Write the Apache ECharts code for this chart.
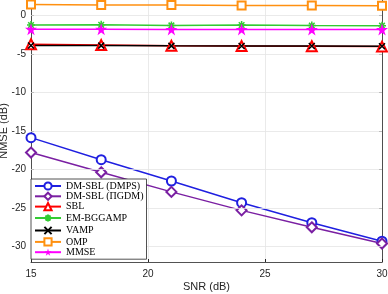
<!DOCTYPE html>
<html>
<head>
<meta charset="utf-8">
<script src="https://cdn.jsdelivr.net/npm/echarts@6/dist/echarts.min.js"></script>
<style>html,body{margin:0;padding:0;background:#fff}#c{width:388px;height:294px}</style>
</head>
<body>
<div id="c"></div>
<script>
const snr = [15, 18, 21, 24, 27, 30];
const dmps = [-15.86, -18.72, -21.49, -24.3, -26.9, -29.3];
const pigdm = [-17.8, -20.36, -22.9, -25.3, -27.5, -29.6];
const sbl = [-3.75, -3.85, -3.95, -3.98, -4.0, -4.05];
const embggamp = [-1.25, -1.22, -1.3, -1.25, -1.32, -1.33];
const vamp = [-3.9, -3.92, -3.95, -3.97, -3.98, -4.0];
const omp = [1.43, 1.34, 1.34, 1.3, 1.3, 1.25];
const mmse = [-1.8, -1.8, -1.82, -1.82, -1.83, -1.83];
const yTicks = [-30, -25, -20, -15, -10, -5, 0];
const names = ['DM-SBL (DMPS)', 'DM-SBL (ΠGDM)', 'SBL', 'EM-BGGAMP', 'VAMP', 'OMP', 'MMSE'];

const star = 'path://M50,0 L61.23,34.55 L97.55,34.55 L68.16,55.9 L79.39,90.45 L50,69.1 L20.61,90.45 L31.84,55.9 L2.45,34.55 L38.77,34.55 Z';
const aster = 'path://M5,0L5,10M0,5L10,5M1.5,1.5L8.5,8.5M8.5,1.5L1.5,8.5';
const cross = 'path://M0,0L10,10M10,0L0,10';

function pairs(v){ return snr.map((x,i)=>[x, v[i]]); }
function mk(name, data, color, symbol, size, extra){
  return Object.assign({
    name, type:'line', data: pairs(data), symbol, symbolSize:size, z:3,
    lineStyle:{color, width:1.5}, itemStyle:{color, borderColor:color, borderWidth:1.5},
    emphasis:{disabled:true}, animation:false
  }, extra||{});
}
const series = [
  {
    name:'grid', type:'line', data:[], z:1, silent:true,
    markLine:{silent:true, symbol:['none','none'], label:{show:false}, animation:false,
      lineStyle:{color:'#e5e5e5', width:0.8, type:'solid'},
      emphasis:{disabled:true},
      data: yTicks.map(v=>({yAxis:v}))}
  },
  mk(names[0], dmps, '#1f1fe0', 'emptyCircle', 9),
  mk(names[1], pigdm, '#7a1fa2', 'emptyDiamond', 10),
  mk(names[2], sbl, '#ff0000', 'emptyTriangle', 10),
  mk(names[3], embggamp, '#33cc33', aster, 8, {itemStyle:{color:'none', borderColor:'#33cc33', borderWidth:1.5}}),
  mk(names[4], vamp, '#000000', cross, 6, {itemStyle:{color:'none', borderColor:'#000', borderWidth:1.5}}),
  mk(names[5], omp, '#ff9010', 'emptyRect', 8),
  mk(names[6], mmse, '#ff00ff', star, 12, {itemStyle:{color:'#ff00ff', borderColor:'#ff00ff', borderWidth:0}})
];

const chart = echarts.init(document.getElementById('c'), null, {renderer:'canvas'});
const axCol = '#262626';
chart.setOption({
  animation:false,
  backgroundColor:'#fff',
  grid:{left:31, right:6, top:0, bottom:32, containLabel:false, outerBoundsMode:'none'},
  legend:{
    orient:'vertical', left:31, top:179, data:names,
    itemWidth:26, itemHeight:9, itemGap:0.3,
    padding:[2,3,2,3],
    backgroundColor:'#fff', borderColor:axCol, borderWidth:0.8, borderRadius:0,
    textStyle:{fontFamily:'Liberation Serif', fontSize:10, color:'#000'},
    selectedMode:false, z:10
  },
  xAxis:{
    type:'value', min:15, max:30, interval:5,
    name:'SNR (dB)', nameLocation:'middle', nameGap:19, nameMoveOverlap:false,
    nameTextStyle:{fontFamily:'Liberation Sans', fontSize:11, color:axCol},
    axisLine:{show:true, onZero:false, lineStyle:{color:axCol, width:0.8}},
    axisTick:{show:true, inside:true, length:3, lineStyle:{color:axCol}},
    axisLabel:{fontFamily:'Liberation Sans', fontSize:10, color:axCol, margin:7},
    splitLine:{show:true, lineStyle:{color:'#e5e5e5', width:0.8}}
  },
  yAxis:[{
    type:'value', min:-32, max:2,
    name:'NMSE (dB)', nameLocation:'middle', nameGap:22, nameMoveOverlap:false,
    nameTextStyle:{fontFamily:'Liberation Sans', fontSize:11, color:axCol},
    axisLine:{show:true, onZero:false, lineStyle:{color:axCol, width:0.8}},
    axisTick:{show:true, inside:true, length:3, customValues:yTicks, lineStyle:{color:axCol}},
    axisLabel:{fontFamily:'Liberation Sans', fontSize:10, color:axCol, margin:5, customValues:yTicks},
    splitLine:{show:false}
  },{
    type:'value', min:-32, max:2, position:'right',
    axisLine:{show:true, onZero:false, lineStyle:{color:axCol, width:0.8}},
    axisTick:{show:true, inside:true, length:3, customValues:yTicks, lineStyle:{color:axCol}},
    axisLabel:{show:false}, splitLine:{show:false}
  }],
  series
});
</script>
</body>
</html>
